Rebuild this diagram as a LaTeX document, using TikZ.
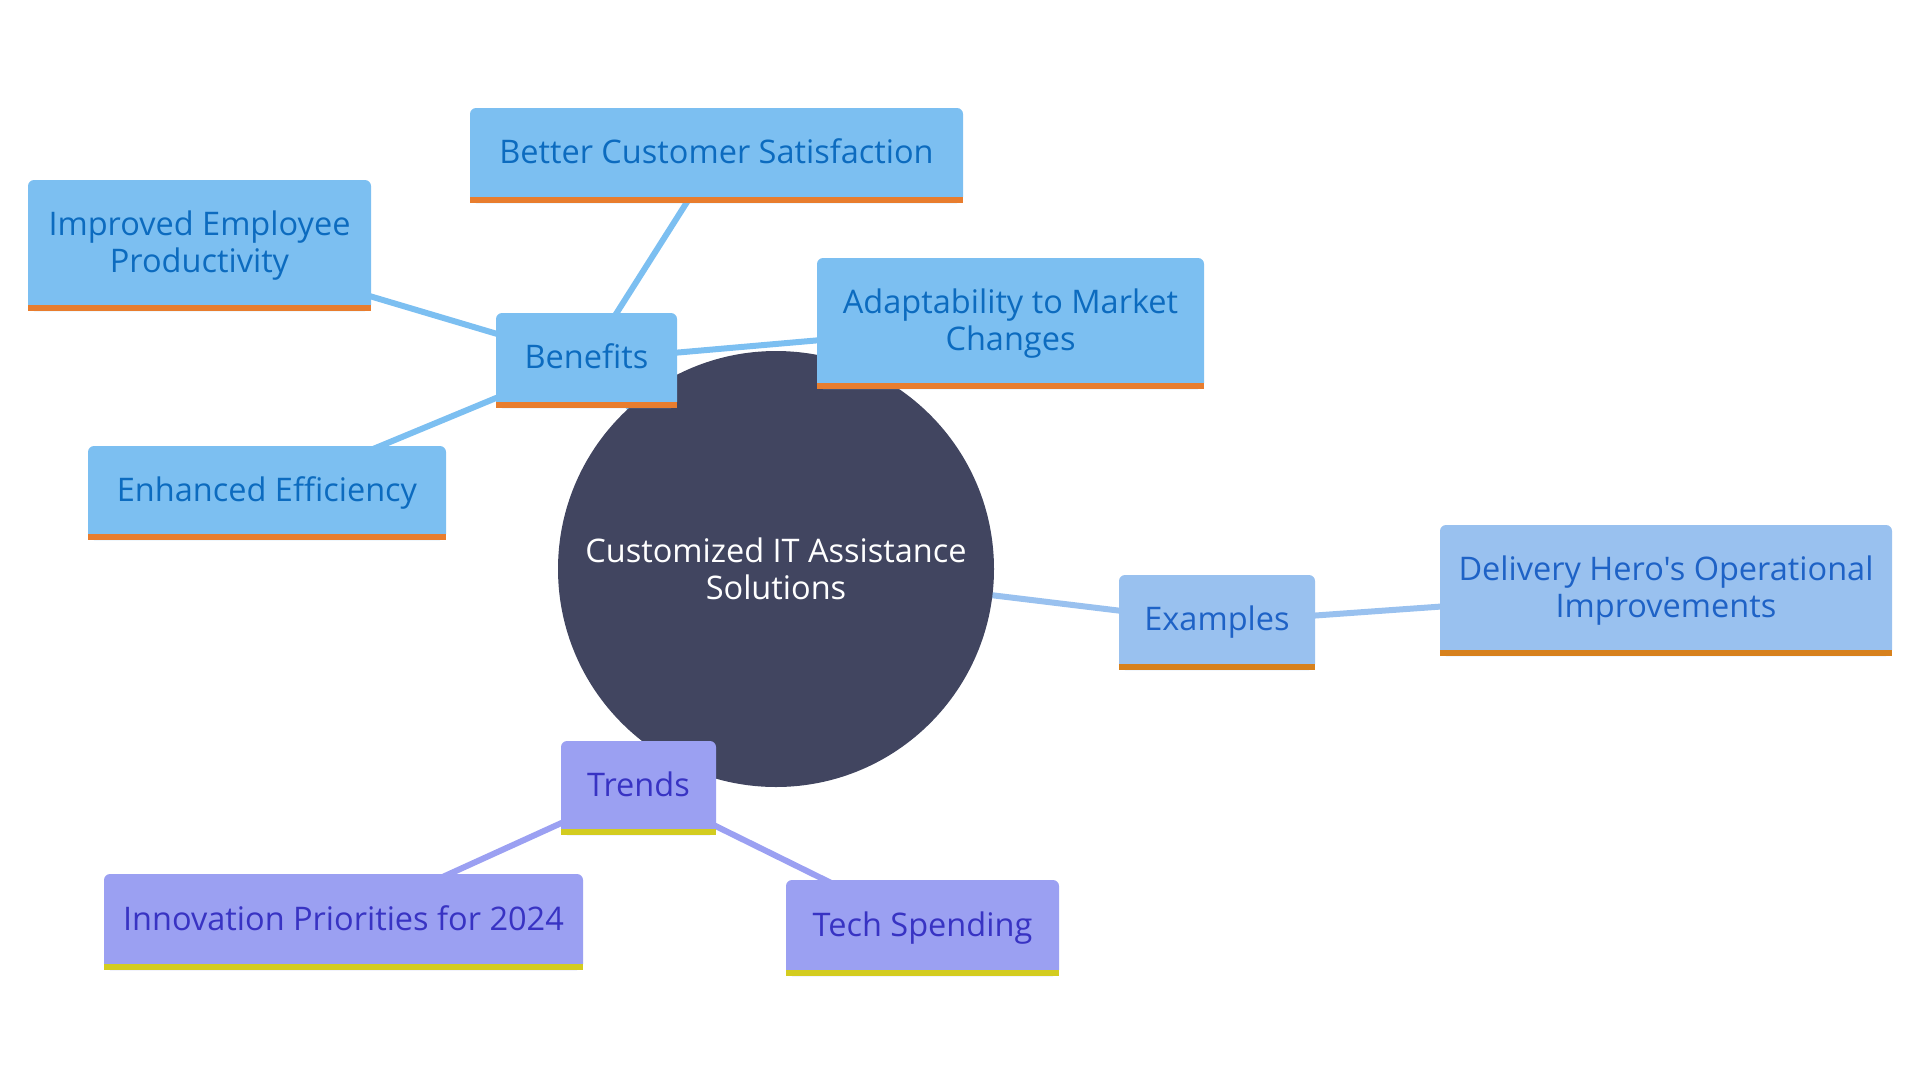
\documentclass[tikz,border=0pt]{standalone}
\usepackage{fontspec}
\setmainfont{Open Sans}[Ligatures=TeXOff]
\usetikzlibrary{backgrounds}

\definecolor{hubfill}{HTML}{414560}
\definecolor{benfill}{HTML}{7CBFF1}
\definecolor{bentext}{HTML}{0C6BBF}
\definecolor{benbar}{HTML}{E87D2E}
\definecolor{exafill}{HTML}{99C1EF}
\definecolor{exatext}{HTML}{1E62C6}
\definecolor{exabar}{HTML}{D7811D}
\definecolor{trefill}{HTML}{9BA0F2}
\definecolor{tretext}{HTML}{3833C3}
\definecolor{trebar}{HTML}{D3CC20}

\tikzset{
  mapfont/.style={font=\fontsize{32.5}{37}\selectfont},
  hub/.style={circle, fill=hubfill, text=white, minimum size=436pt, inner sep=0pt, align=center, mapfont},
  box/.style={rectangle, rounded corners=6pt, inner sep=0pt, text depth=8pt, align=center, mapfont},
  benbox/.style={box, fill=benfill, text=bentext},
  exabox/.style={box, fill=exafill, text=exatext},
  trebox/.style={box, fill=trefill, text=tretext},
  link/.style={line width=6pt}
}

\begin{document}
\begin{tikzpicture}[x=1pt, y=-1pt]
    \useasboundingbox (0,0) rectangle (1920,1080);

    % centre
    \node[hub] (hub) at (776,569) {Customized IT Assistance\\Solutions};

    % benefits
    \node[benbox, minimum width=181pt, minimum height=95pt] (ben) at (586.5,360.5) {Benefits};
    \node[benbox, minimum width=493pt, minimum height=95pt] (bcs) at (716.5,155.5) {Better Customer Satisfaction};
    \node[benbox, minimum width=387pt, minimum height=131pt] (adapt) at (1010.5,323.5) {Adaptability to Market\\Changes};
    \node[benbox, minimum width=343pt, minimum height=131pt] (prod) at (199.5,245.5) {Improved Employee\\Productivity};
    \node[benbox, minimum width=358pt, minimum height=94pt] (eff) at (267,493) {Enhanced Efficiency};

    % examples
    \node[exabox, minimum width=196pt, minimum height=95pt] (exa) at (1217,622.5) {Examples};
    \node[exabox, minimum width=452pt, minimum height=131pt] (hero) at (1666,590.5) {Delivery Hero's Operational\\Improvements};

    % trends
    \node[trebox, minimum width=155pt, minimum height=94pt] (tre) at (638.5,788) {Trends};
    \node[trebox, minimum width=479pt, minimum height=96pt] (inno) at (343.5,922) {Innovation Priorities for 2024};
    \node[trebox, minimum width=273pt, minimum height=96pt] (tech) at (922.5,928) {Tech Spending};

    % bottom bars
    \foreach \n/\c in {ben/benbar, bcs/benbar, adapt/benbar, prod/benbar, eff/benbar,
                       exa/exabar, hero/exabar, tre/trebar, inno/trebar, tech/trebar}
        \fill[\c] (\n.south west) rectangle ([yshift=6pt]\n.south east);

    \begin{pgfonlayer}{background}
        \draw[link, benfill] (hub.center) -- (ben.center);
        \foreach \n in {bcs, adapt, prod, eff}
            \draw[link, benfill] (ben.center) -- (\n.center);
        \draw[link, exafill] (hub.center) -- (exa.center) -- (hero.center);
        \draw[link, trefill] (hub.center) -- (tre.center);
        \foreach \n in {inno, tech}
            \draw[link, trefill] (tre.center) -- (\n.center);
    \end{pgfonlayer}
\end{tikzpicture}
\end{document}
